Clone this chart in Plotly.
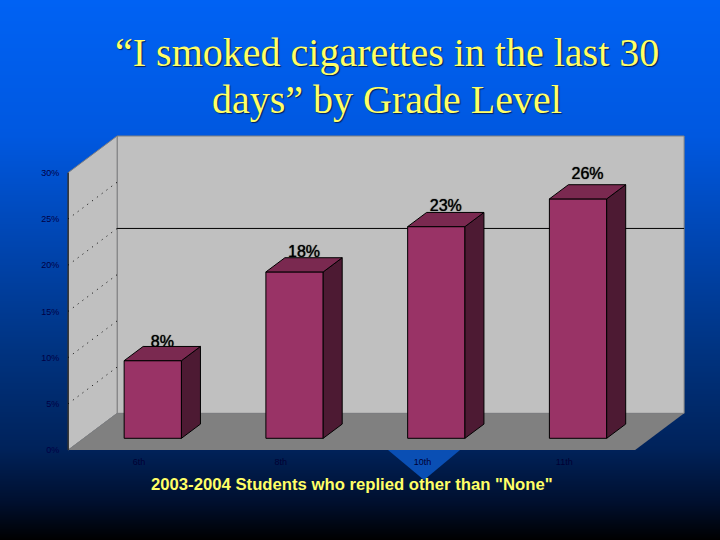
import plotly.graph_objs as go
import numpy as np

grades = ['6th', '8th', '10th', '11th']
pct_values = [8.4, 18.0, 22.9, 25.9]
y_ticks = [0, 5, 10, 15, 20, 25, 30]
y_tick_text = ['0%', '5%', '10%', '15%', '20%', '25%', '30%']

title_lines = ['“I smoked cigarettes in the last 30', 'days” by Grade Level']
caption_text = '2003-2004 Students who replied other than "None"'

# Slide background, top to bottom
bg_colors = [[0, '#0062f4'], [0.25, '#0058e0'], [0.45, '#0045b0'], [0.65, '#003380'],
             [0.83, '#00225a'], [0.93, '#000f2e'], [1, '#000000']]

# Page to axis conversion: x index 0 sits at 139 px with 141.75 px per grade,
# 0% sits at 450 px with 9.243 px per percent
X_ZERO, X_STEP, Y_ZERO, Y_STEP = 139.0, 141.75, 450.0, 9.243
x_range = [-X_ZERO / X_STEP, (720 - X_ZERO) / X_STEP]
y_range = [(Y_ZERO - 540) / Y_STEP, Y_ZERO / Y_STEP]

# Depth of the chart box and of the bars, in axis units
wall_dx, wall_dy = 49 / X_STEP, 36.7 / Y_STEP
bar_dx, bar_dy = 19 / X_STEP, 14.2 / Y_STEP
bar_shift, bar_width = 13.8 / X_STEP, 57.3 / X_STEP
bar_lift = 11.7 / Y_STEP
label_gap_px = np.array([3.5, 5, 5, 10])

x_left, x_right = -0.5, len(grades) - 0.5
y_top = max(y_ticks)

idx = np.arange(len(grades))
x0 = idx + bar_shift - bar_width / 2
x1 = idx + bar_shift + bar_width / 2
tops = np.array(pct_values) + bar_lift

side_x, side_y, lid_x, lid_y = [], [], [], []
for i in range(len(grades)):
    side_x += [x1[i], x1[i] + bar_dx, x1[i] + bar_dx, x1[i], x1[i], None]
    side_y += [bar_lift, bar_lift + bar_dy, tops[i] + bar_dy, tops[i], bar_lift, None]
    lid_x += [x0[i], x0[i] + bar_dx, x1[i] + bar_dx, x1[i], x0[i], None]
    lid_y += [tops[i], tops[i] + bar_dy, tops[i] + bar_dy, tops[i], tops[i], None]

# Background gradient and the decoration showing under the chart
trace_bg = go.Heatmap(x=[-10, 730], y=np.linspace(0, 540, 109),
                      z=[[v, v] for v in np.linspace(0, 1, 109)],
                      colorscale=bg_colors, zmin=0, zmax=1, zsmooth='best',
                      showscale=False, hoverinfo='skip', xaxis='x', yaxis='y')
trace_deco = go.Scatter(x=[388, 460, 424, 388], y=[450, 450, 480, 450], mode='lines', fill='toself',
                        fillcolor='#0a4fb4', line=dict(width=0), hoverinfo='skip',
                        xaxis='x', yaxis='y')

# Labels go first so the bar lids cut into them as in the original
trace_labels = go.Scatter(x=x0 + bar_width / 2 + bar_dx / 2, y=tops + bar_dy + label_gap_px / Y_STEP,
                          text=[f'{v:.0f}%' for v in pct_values], mode='text', textposition='middle center',
                          textfont=dict(family='Liberation Sans', size=16, color='#000000', shadow='0 0 1px #000000'),
                          cliponaxis=False, xaxis='x2', yaxis='y2')
trace_front = go.Bar(x=idx + bar_shift, y=pct_values, base=bar_lift, width=bar_width,
                     marker=dict(color='#993366', line=dict(color='#000000', width=1)),
                     xaxis='x2', yaxis='y2')
trace_side = go.Scatter(x=side_x, y=side_y, mode='lines', fill='toself', fillcolor='#4d1a33',
                        line=dict(color='#000000', width=1), xaxis='x2', yaxis='y2')
trace_lid = go.Scatter(x=lid_x, y=lid_y, mode='lines', fill='toself', fillcolor='#7a2950',
                       line=dict(color='#000000', width=1), xaxis='x2', yaxis='y2')


def box_shape(xs, ys, color, edge_width=1):
    path = 'M ' + ' L '.join(f'{a},{b}' for a, b in zip(xs, ys)) + ' Z'
    return dict(type='path', path=path, xref='x2', yref='y2', layer='below',
                fillcolor=color, line=dict(color='#808080', width=edge_width))


shapes = [
    box_shape([x_left + wall_dx, x_right + wall_dx, x_right + wall_dx, x_left + wall_dx],
              [wall_dy, wall_dy, y_top + wall_dy, y_top + wall_dy], '#c0c0c0'),
    box_shape([x_left, x_left + wall_dx, x_left + wall_dx, x_left],
              [0, wall_dy, y_top + wall_dy, y_top], '#c0c0c0'),
    box_shape([x_left, x_left + wall_dx, x_right + wall_dx, x_right],
              [0, wall_dy, wall_dy, 0], '#808080', edge_width=0),
    dict(type='line', xref='x2', yref='y2', layer='below', x0=x_left, x1=x_left, y0=0, y1=y_top,
         line=dict(color='#000000', width=1)),
]
for t in y_ticks[1:-1]:
    shapes.append(dict(type='line', xref='x2', yref='y2', layer='below',
                       x0=x_left, x1=x_left + wall_dx, y0=t, y1=t + wall_dy,
                       line=dict(color='#000000', width=1, dash='1px,5px')))
# Solid gridline on the back wall
shapes.append(dict(type='line', xref='x2', yref='y2', layer='below',
                   x0=x_left + wall_dx, x1=x_right + wall_dx, y0=20 + wall_dy, y1=20 + wall_dy,
                   line=dict(color='#000000', width=1)))

title_font = dict(family='Liberation Serif', size=40, color='#ffff66', shadow='1px 1px 1px #00205a')
annotations = [
    dict(text=title_lines[0], xref='paper', yref='paper', x=387 / 720, y=1 - 52 / 540, showarrow=False,
         xanchor='center', yanchor='middle', font=title_font),
    dict(text=title_lines[1], xref='paper', yref='paper', x=387 / 720, y=1 - 100 / 540, showarrow=False,
         xanchor='center', yanchor='middle', font=title_font),
    dict(text=caption_text, xref='paper', yref='paper', x=352 / 720, y=1 - 484 / 540, showarrow=False,
         xanchor='center', yanchor='middle',
         font=dict(family='Liberation Sans', size=16.7, color='#ffff66', weight='bold')),
]

layout = go.Layout(
    width=720, height=540, margin=dict(l=0, r=0, t=0, b=0), showlegend=False,
    paper_bgcolor='#000000', plot_bgcolor='rgba(0,0,0,0)', shapes=shapes, annotations=annotations,
    xaxis=dict(domain=[0, 1], range=[0, 720], visible=False, fixedrange=True),
    yaxis=dict(domain=[0, 1], range=[540, 0], visible=False, fixedrange=True),
    xaxis2=dict(domain=[0, 1], range=x_range, anchor='free', position=(540 - Y_ZERO) / 540,
                tickvals=idx.tolist(), ticktext=grades, showgrid=False, zeroline=False,
                ticks='outside', ticklen=3, tickcolor='rgba(0,0,0,0)',
                tickfont=dict(family='Liberation Sans', size=9, color='#000033')),
    yaxis2=dict(domain=[0, 1], range=y_range, anchor='free', position=(X_ZERO + x_left * X_STEP) / 720,
                tickvals=y_ticks, ticktext=y_tick_text, showgrid=False, zeroline=False,
                ticks='outside', ticklen=7, tickcolor='rgba(0,0,0,0)',
                tickfont=dict(family='Liberation Sans', size=9, color='#000044')),
)

fig = go.Figure(data=[trace_bg, trace_deco, trace_labels, trace_front, trace_side, trace_lid], layout=layout)
# Drop the browser's default page margin so the slide fills the window
fig.write_html("out.html", config=dict(displayModeBar=False), post_script="document.body.style.margin='0';")
